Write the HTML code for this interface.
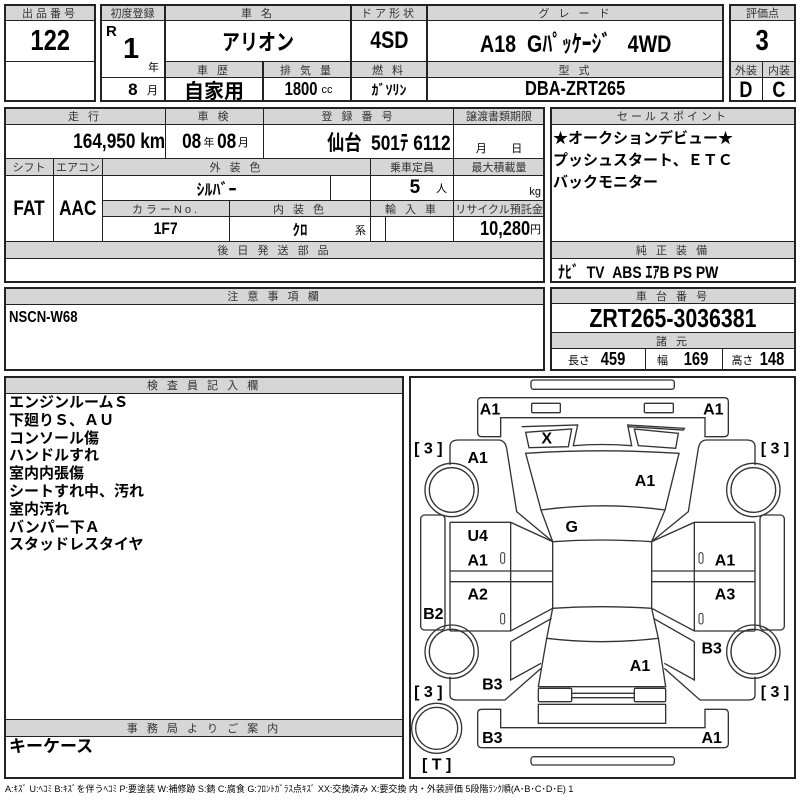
<!DOCTYPE html>
<html><head><meta charset="utf-8"><style>
*{margin:0;padding:0}
body{width:800px;height:800px;background:#fff;position:relative;overflow:hidden;font-family:"Liberation Sans","Noto Sans CJK JP",sans-serif;color:#000}
.c{position:absolute;box-sizing:border-box;border:1px solid #222;display:flex;align-items:center;justify-content:center;font-weight:bold;white-space:nowrap}
.g{background:#d6d6d6;font-size:11px;font-weight:normal;letter-spacing:3px;color:#333;font-family:"Liberation Sans","Noto Sans CJK JP",sans-serif}
.o{position:absolute;box-sizing:border-box;border:2px solid #222;pointer-events:none}
.s{font-size:11px;font-weight:normal}
.n{display:inline-block;transform:scaleX(.82)}
.t{position:absolute;font-size:15px;font-weight:bold;font-family:"Liberation Sans","Noto Sans CJK JP",sans-serif;line-height:18px}
</style></head><body>
<!-- box1 -->
<div class="c g" style="left:4px;top:4px;width:92px;height:17px">出品番号</div>
<div class="c" style="left:4px;top:20px;width:92px;height:42px;font-size:29px"><span class="n">122</span></div>
<div class="c" style="left:4px;top:61px;width:92px;height:41px"></div>
<div class="o" style="left:4px;top:4px;width:92px;height:98px"></div>
<!-- box2 -->
<div class="c g" style="left:100px;top:4px;width:65px;height:17px;letter-spacing:0">初度登録</div>
<div class="c" style="left:100px;top:20px;width:65px;height:58px"><span style="position:absolute;left:5px;top:2px;font-size:15px">R</span><span style="font-size:29px;position:absolute;left:22px;top:12px">1</span><span class="s" style="position:absolute;right:5px;bottom:2px">年</span></div>
<div class="c" style="left:100px;top:77px;width:65px;height:25px;font-size:17px;justify-content:flex-end;padding-right:6px">8&nbsp;&nbsp;<span class="s">月</span></div>
<div class="c g" style="left:165px;top:4px;width:186px;height:17px">車 名</div>
<div class="c" style="left:165px;top:20px;width:186px;height:42px;font-size:22px"><span class="n">アリオン</span></div>
<div class="c g" style="left:165px;top:61px;width:98px;height:17px">車 歴</div>
<div class="c g" style="left:263px;top:61px;width:88px;height:17px">排 気 量</div>
<div class="c" style="left:165px;top:77px;width:98px;height:25px;font-size:20px">自家用</div>
<div class="c" style="left:263px;top:77px;width:88px;height:25px;font-size:18px"><span class="n">1800</span><span class="s">cc</span></div>
<div class="c g" style="left:351px;top:4px;width:76px;height:17px">ドア形状</div>
<div class="c" style="left:351px;top:20px;width:76px;height:42px;font-size:24px"><span class="n">4SD</span></div>
<div class="c g" style="left:351px;top:61px;width:76px;height:17px">燃 料</div>
<div class="c" style="left:351px;top:77px;width:76px;height:25px;font-size:14px">ｶﾞｿﾘﾝ</div>
<div class="c g" style="left:427px;top:4px;width:297px;height:17px">グ レ ー ド</div>
<div class="c" style="left:427px;top:20px;width:297px;height:42px;font-size:24px"><span class="n">A18&nbsp;&nbsp;Gﾊﾟｯｹｰｼﾞ&nbsp;&nbsp;&nbsp;4WD</span></div>
<div class="c g" style="left:427px;top:61px;width:297px;height:17px">型 式</div>
<div class="c" style="left:427px;top:77px;width:297px;height:25px;font-size:20px"><span class="n">DBA-ZRT265</span></div>
<div class="o" style="left:100px;top:4px;width:624px;height:98px"></div>
<!-- box3 -->
<div class="c g" style="left:729px;top:4px;width:67px;height:17px;letter-spacing:0">評価点</div>
<div class="c" style="left:729px;top:20px;width:67px;height:42px;font-size:29px"><span class="n">3</span></div>
<div class="c g" style="left:729px;top:61px;width:34px;height:17px;letter-spacing:0">外装</div>
<div class="c g" style="left:762px;top:61px;width:34px;height:17px;letter-spacing:0">内装</div>
<div class="c" style="left:729px;top:77px;width:34px;height:25px;font-size:22px"><span class="n">D</span></div>
<div class="c" style="left:762px;top:77px;width:34px;height:25px;font-size:22px"><span class="n">C</span></div>
<div class="o" style="left:729px;top:4px;width:67px;height:98px"></div>
<!-- box4 -->
<div class="c g" style="left:4px;top:107px;width:162px;height:18px">走 行</div>
<div class="c g" style="left:165px;top:107px;width:99px;height:18px">車 検</div>
<div class="c g" style="left:263px;top:107px;width:191px;height:18px">登 録 番 号</div>
<div class="c g" style="left:453px;top:107px;width:92px;height:18px;letter-spacing:0">譲渡書類期限</div>
<div class="c" style="left:4px;top:124px;width:162px;height:35px;font-size:21px;justify-content:flex-end;padding-right:0"><span class="n" style="transform-origin:right">164,950 km</span></div>
<div class="c" style="left:165px;top:124px;width:99px;height:35px;font-size:21px"><span class="n">08</span><span class="s">年</span><span class="n">08</span><span class="s">月</span></div>
<div class="c" style="left:263px;top:124px;width:191px;height:35px;font-size:21px;justify-content:flex-end;padding-right:2px"><span class="n" style="transform-origin:right">仙台&nbsp;&nbsp;501ﾃ 6112</span></div>
<div class="c" style="left:453px;top:124px;width:92px;height:35px;align-items:flex-end;padding-bottom:2px"><span class="s">月&nbsp;&nbsp;&nbsp;&nbsp;&nbsp;&nbsp;&nbsp;&nbsp;日</span></div>
<div class="c g" style="left:4px;top:158px;width:50px;height:18px;letter-spacing:0">シフト</div>
<div class="c g" style="left:53px;top:158px;width:50px;height:18px;letter-spacing:0">エアコン</div>
<div class="c g" style="left:102px;top:158px;width:269px;height:18px">外 装 色</div>
<div class="c g" style="left:370px;top:158px;width:84px;height:18px;letter-spacing:0">乗車定員</div>
<div class="c g" style="left:453px;top:158px;width:92px;height:18px;letter-spacing:0">最大積載量</div>
<div class="c" style="left:4px;top:175px;width:50px;height:67px;font-size:21px"><span class="n">FAT</span></div>
<div class="c" style="left:53px;top:175px;width:50px;height:67px;font-size:21px"><span class="n">AAC</span></div>
<div class="c" style="left:102px;top:175px;width:229px;height:26px;font-size:16px">ｼﾙﾊﾞｰ</div>
<div class="c" style="left:330px;top:175px;width:41px;height:26px"></div>
<div class="c" style="left:370px;top:175px;width:84px;height:26px;font-size:19px;justify-content:flex-end;padding-right:6px">5&nbsp;&nbsp;&nbsp;<span class="s">人</span></div>
<div class="c" style="left:453px;top:175px;width:92px;height:26px;justify-content:flex-end;align-items:flex-end;padding:0 3px 2px 0"><span class="s">kg</span></div>
<div class="c g" style="left:102px;top:200px;width:128px;height:17px">カラーNo.</div>
<div class="c g" style="left:229px;top:200px;width:142px;height:17px">内 装 色</div>
<div class="c g" style="left:370px;top:200px;width:84px;height:17px">輸 入 車</div>
<div class="c g" style="left:453px;top:200px;width:92px;height:17px;letter-spacing:0">リサイクル預託金</div>
<div class="c" style="left:102px;top:216px;width:128px;height:26px;font-size:17px"><span class="n">1F7</span></div>
<div class="c" style="left:229px;top:216px;width:142px;height:26px;font-size:15px">ｸﾛ<span class="s" style="position:absolute;right:4px;bottom:3px">系</span></div>
<div class="c" style="left:370px;top:216px;width:16px;height:26px"></div>
<div class="c" style="left:385px;top:216px;width:69px;height:26px"></div>
<div class="c" style="left:453px;top:216px;width:92px;height:26px;font-size:20px;justify-content:flex-end;padding-right:3px"><span class="n" style="transform-origin:right">10,280</span><span class="s">円</span></div>
<div class="c g" style="left:4px;top:241px;width:541px;height:18px">後 日 発 送 部 品</div>
<div class="o" style="left:4px;top:107px;width:541px;height:176px"></div>
<!-- sales point -->
<div class="c g" style="left:550px;top:107px;width:246px;height:18px">セールスポイント</div>
<div class="t" style="left:553px;top:128px;line-height:22px;font-size:15px">★オークションデビュー★<br>プッシュスタート、ＥＴＣ<br>バックモニター</div>
<div class="c g" style="left:550px;top:241px;width:246px;height:18px">純 正 装 備</div>
<div class="c" style="left:550px;top:258px;width:246px;height:25px;font-size:17px;justify-content:flex-start;padding-left:8px;border:none"><span class="n" style="transform-origin:left">ﾅﾋﾞ&nbsp;&nbsp;TV&nbsp;&nbsp;ABS&nbsp;ｴｱB&nbsp;PS&nbsp;PW</span></div>
<div class="o" style="left:550px;top:107px;width:246px;height:176px"></div>
<!-- caution -->
<div class="c g" style="left:4px;top:287px;width:541px;height:18px">注 意 事 項 欄</div>
<div class="t" style="left:9px;top:309px;font-size:16px"><span class="n" style="transform-origin:left">NSCN-W68</span></div>
<div class="o" style="left:4px;top:287px;width:541px;height:84px"></div>
<!-- chassis -->
<div class="c g" style="left:550px;top:287px;width:246px;height:17px">車 台 番 号</div>
<div class="c" style="left:550px;top:303px;width:246px;height:30px;font-size:26px"><span class="n">ZRT265-3036381</span></div>
<div class="c g" style="left:550px;top:332px;width:246px;height:17px">諸 元</div>
<div class="c" style="left:550px;top:348px;width:96px;height:23px;font-size:18px"><span class="s">長さ&nbsp;</span>&nbsp;<span class="n">459</span></div>
<div class="c" style="left:645px;top:348px;width:78px;height:23px;font-size:18px"><span class="s">幅&nbsp;</span>&nbsp;&nbsp;<span class="n">169</span></div>
<div class="c" style="left:722px;top:348px;width:74px;height:23px;font-size:18px"><span class="s">高さ&nbsp;</span><span class="n">148</span></div>
<div class="o" style="left:550px;top:287px;width:246px;height:84px"></div>
<!-- inspector -->
<div class="c g" style="left:4px;top:376px;width:400px;height:18px">検 査 員 記 入 欄</div>
<div class="t" style="left:9px;top:394px;font-size:15px;line-height:17.8px">エンジンルームＳ<br>下廻りＳ、ＡＵ<br>コンソール傷<br>ハンドルすれ<br>室内内張傷<br>シートすれ中、汚れ<br>室内汚れ<br>バンパー下Ａ<br>スタッドレスタイヤ</div>
<div class="c g" style="left:4px;top:719px;width:400px;height:18px">事 務 局 よ り ご 案 内</div>
<div class="t" style="left:9px;top:738px;font-size:17px">キーケース</div>
<div class="o" style="left:4px;top:376px;width:400px;height:403px"></div>
<!-- diagram -->
<div class="o" style="left:409px;top:376px;width:387px;height:403px"></div>
<svg style="position:absolute;left:405px;top:375px" width="395" height="405" viewBox="0 0 1185 1215" fill="none" stroke="#333" stroke-width="4">
<rect x="378" y="15" width="430" height="28" rx="8"/>
<path d="M287 185 L287 128 L900 128 L900 185 L958 185 Q970 185 970 173 L970 80 Q970 68 958 68 L230 68 Q218 68 218 80 L218 173 Q218 185 230 185 Z"/>
<rect x="380" y="85" width="86" height="28" rx="3"/>
<rect x="718" y="85" width="87" height="28" rx="3"/>
<path d="M350 155 L518 150 L505 212 Q590 205 680 212 L668 150 L838 160 L835 165 L670 155"/>
<path d="M362 172 L500 162 L490 215 L372 218 Z"/>
<path d="M688 162 L820 175 L812 220 L700 212 Z"/>
<path d="M362 235 Q590 220 822 235 L780 405 Q594 380 408 405 Z"/>
<path d="M408 405 L443 500 Q590 490 740 500 L780 405"/>
<path d="M443 500 L443 700 Q590 690 740 700 L740 500"/>
<path d="M443 700 L425 790 Q590 810 760 790 L740 700"/>
<path d="M425 790 L400 935 L782 935 L760 790"/>
<rect x="400" y="940" width="100" height="40" rx="4"/>
<rect x="688" y="940" width="94" height="40" rx="4"/>
<path d="M500 955 L688 955 M500 968 L688 968"/>
<rect x="400" y="988" width="382" height="57"/>
<path d="M287 1003 L287 1058 L900 1058 L900 1003 L958 1003 Q970 1003 970 1015 L970 1106 Q970 1118 958 1118 L230 1118 Q218 1118 218 1106 L218 1015 Q218 1003 230 1003 Z"/>
<rect x="378" y="1145" width="430" height="25" rx="8"/>
<path d="M135 270 L135 215 Q135 195 160 195 L280 195 Q300 195 305 220 L335 410 L443 500"/>
<path d="M1050 270 L1050 215 Q1050 195 1025 195 L905 195 Q885 195 880 220 L850 410 L740 500"/>
<path d="M135 442 L317 442 L443 500 M135 588 L443 588 M135 620 L443 620 M135 768 L317 768 L443 700 M317 442 L317 768 M135 442 L135 768"/>
<path d="M1050 442 L868 442 L740 500 M1050 588 L740 588 M1050 620 L740 620 M1050 768 L868 768 L740 700 M868 442 L868 768 M1050 442 L1050 768"/>
<path d="M135 905 L135 960 Q135 975 155 975 L300 975 L408 880 M317 800 L317 915 L408 865 M317 800 L440 730"/>
<path d="M1050 905 L1050 960 Q1050 975 1030 975 L885 975 L778 880 M868 800 L868 915 L778 865 M868 800 L745 730"/>
<rect x="47" y="420" width="73" height="345" rx="12"/>
<rect x="1065" y="420" width="73" height="345" rx="12"/>
<circle cx="140" cy="345" r="80"/><circle cx="140" cy="345" r="67"/>
<circle cx="140" cy="830" r="80"/><circle cx="140" cy="830" r="67"/>
<circle cx="1045" cy="345" r="80"/><circle cx="1045" cy="345" r="67"/>
<circle cx="1045" cy="830" r="80"/><circle cx="1045" cy="830" r="67"/>
<circle cx="95" cy="1060" r="75"/><circle cx="95" cy="1060" r="63"/>
<g stroke-width="3"><rect x="287" y="533" width="12" height="32" rx="6"/><rect x="882" y="533" width="12" height="32" rx="6"/><rect x="287" y="715" width="12" height="32" rx="6"/><rect x="882" y="715" width="12" height="32" rx="6"/></g>
<g fill="#000" stroke="none" font-family="Liberation Sans, sans-serif" font-weight="bold" font-size="48" text-anchor="middle" dominant-baseline="central">
<text x="255" y="105">A1</text><text x="925" y="105">A1</text><text x="425" y="192">X</text>
<text x="218" y="250">A1</text><text x="720" y="320">A1</text><text x="500" y="458">G</text>
<text x="218" y="485">U4</text><text x="218" y="558">A1</text><text x="960" y="558">A1</text>
<text x="218" y="660">A2</text><text x="960" y="660">A3</text><text x="85" y="718">B2</text>
<text x="920" y="822">B3</text><text x="705" y="875">A1</text><text x="262" y="930">B3</text>
<text x="262" y="1090">B3</text><text x="920" y="1090">A1</text>
<text x="70" y="222">[ 3 ]</text><text x="1110" y="222">[ 3 ]</text>
<text x="70" y="952">[ 3 ]</text><text x="1110" y="952">[ 3 ]</text>
<text x="95" y="1170">[ T ]</text>
</g>
</svg>
<div style="position:absolute;left:5px;top:782px;font-size:9px;white-space:nowrap;font-family:'Liberation Sans','Noto Sans CJK JP',sans-serif">A:ｷｽﾞ U:ﾍｺﾐ B:ｷｽﾞを伴うﾍｺﾐ P:要塗装 W:補修跡 S:錆 C:腐食 G:ﾌﾛﾝﾄｶﾞﾗｽ点ｷｽﾞ XX:交換済み X:要交換 内・外装評価 5段階ﾗﾝｸ順(A･B･C･D･E) 1</div>
</body></html>
